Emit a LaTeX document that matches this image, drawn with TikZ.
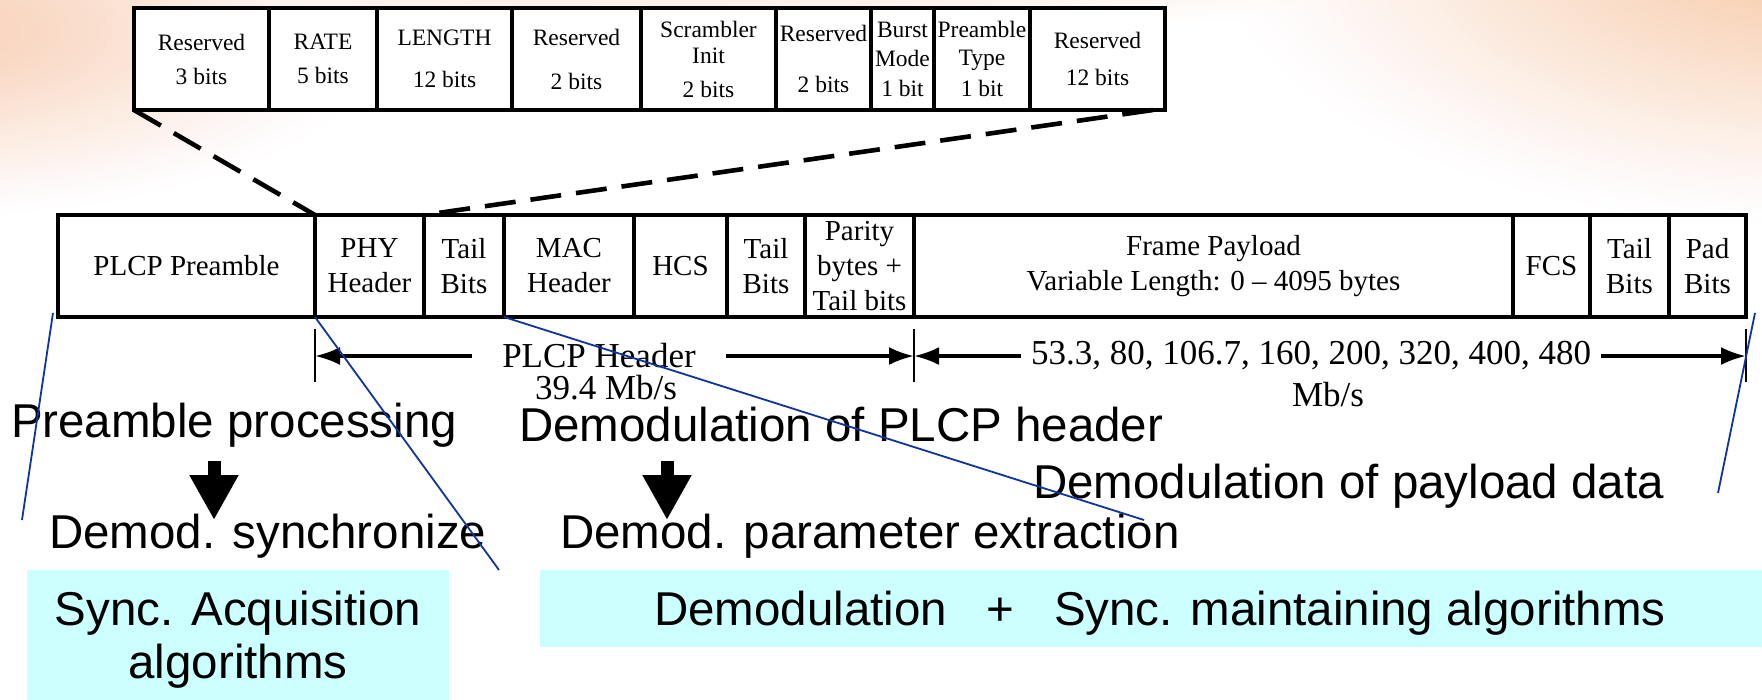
\documentclass[tikz,border=0pt]{standalone}
\usepackage{fontspec}
\setmainfont{Liberation Serif}
\newfontfamily\slidesans{Liberation Sans}
\usetikzlibrary{arrows.meta}

\definecolor{peachL}{RGB}{247,204,178}
\definecolor{peachT}{RGB}{250,226,210}
\definecolor{peachR}{RGB}{247,200,166}
\definecolor{guideblue}{RGB}{14,52,160}
\definecolor{algcyan}{RGB}{204,255,255}

\begin{document}
\begin{tikzpicture}[x=1pt,y=-1pt,
  every node/.style={inner sep=0pt,outer sep=0pt},
  frame/.style={draw=black,fill=white,line width=3.2pt},
  fieldcell/.style={frame,anchor=north west,minimum height=102pt,align=center,
    font=\fontsize{23.5}{26}\selectfont},
  framecell/.style={frame,anchor=north west,minimum height=102pt,align=center,
    font=\fontsize{29}{35}\selectfont},
  zoomline/.style={line width=4.6pt,dash pattern=on 31pt off 15pt},
  marker/.style={line width=2.8pt},
  span/.style={line width=3.4pt,-{Latex[length=25pt,width=18pt]}},
  spanlabel/.style={font=\fontsize{35}{35}\selectfont},
  stage/.style={font=\slidesans\fontsize{47.5}{53}\selectfont},
  algbox/.style={fill=algcyan,anchor=north west,align=center,
    font=\slidesans\fontsize{47.5}{53}\selectfont},
  flowarrow/.style={line width=13pt,-{Triangle[length=45pt,width=46pt]}},
  guide/.style={draw=guideblue,line width=1.8pt},
]
\useasboundingbox (0,0) rectangle (1762,700);

% slide background: white with soft peach glows, built from stacked ellipses
\begin{scope}
  \clip (0,0) rectangle (1762,700);
  \fill[white] (0,0) rectangle (1762,700);
  \foreach \i in {48,47,...,1}{
    \pgfmathsetmacro{\frac}{\i/48}
    \pgfmathsetmacro{\pct}{100*(1-\frac)}
    \pgfmathsetmacro{\trx}{900*\frac}
    \pgfmathsetmacro{\try}{70*\frac}
    \fill[peachT!\pct!white] (620,-30) ellipse [x radius=\trx,y radius=\try];
  }
  \foreach \i in {48,47,...,1}{
    \pgfmathsetmacro{\frac}{\i/48}
    \pgfmathsetmacro{\pct}{100*(1-\frac)}
    \pgfmathsetmacro{\lrx}{480*\frac}
    \pgfmathsetmacro{\lry}{190*\frac}
    \pgfmathsetmacro{\rrx}{600*\frac}
    \pgfmathsetmacro{\rry}{280*\frac}
    \fill[peachL!\pct!white,opacity=\pct/100+0.0] (-80,30) ellipse [x radius=\lrx,y radius=\lry];
    \fill[peachR!\pct!white,opacity=\pct/100+0.0] (1810,-50) ellipse [x radius=\rrx,y radius=\rry];
  }
\end{scope}

% algorithm groups
\node[algbox,minimum width=422pt,minimum height=139pt] (acq) at (27,570)
  {Sync. Acquisition\\algorithms};
\node[algbox,minimum width=1240pt,minimum height=77pt,text height=43pt,text depth=10pt]
  (track) at (540,570) {Demodulation~~~+~~~Sync. maintaining algorithms};

% PHY header fields
\node[fieldcell,minimum width=135pt] (f1) at (134,8) {Reserved\\[8pt]3 bits};
\node[fieldcell,minimum width=108pt] (f2) at (269,8) {RATE\\[8pt]5 bits};
\node[fieldcell,minimum width=135pt] (f3) at (377,8) {LENGTH\\[16pt]12 bits};
\node[fieldcell,minimum width=129pt] (f4) at (512,8) {Reserved\\[18pt]2 bits};
\node[fieldcell,minimum width=135pt] (f5) at (641,8) {Scrambler\\Init\\[8pt]2 bits};
\node[fieldcell,minimum width=95pt]  (f6) at (776,8) {Reserved\\[25pt]2 bits};
\node[fieldcell,minimum width=63pt]  (f7) at (871,8) {Burst\\[3pt]Mode\\[4pt]1 bit};
\node[fieldcell,minimum width=96pt]  (f8) at (934,8) {Preamble\\[2pt]Type\\[5pt]1 bit};
\node[fieldcell,minimum width=135pt] (f9) at (1030,8) {Reserved\\[11pt]12 bits};

% PPDU frame
\node[framecell,minimum width=257pt] (s1) at (58,215) {PLCP Preamble};
\node[framecell,minimum width=109pt] (s2) at (315,215) {PHY\\Header};
\node[framecell,minimum width=80pt]  (s3) at (424,215) {Tail\\Bits};
\node[framecell,minimum width=130pt] (s4) at (504,215) {MAC\\Header};
\node[framecell,minimum width=93pt]  (s5) at (634,215) {HCS};
\node[framecell,minimum width=78pt]  (s6) at (727,215) {Tail\\Bits};
\node[framecell,minimum width=109pt] (s7) at (805,215) {Parity\\bytes +\\Tail bits};
\node[framecell,minimum width=599pt] (s8) at (914,215)
  {Frame Payload\\Variable Length: 0 -- 4095 bytes};
\node[framecell,minimum width=77pt]  (s9) at (1513,215) {FCS};
\node[framecell,minimum width=79pt]  (s10) at (1590,215) {Tail\\Bits};
\node[framecell,minimum width=77pt]  (s11) at (1669,215) {Pad\\Bits};

% expansion of the PHY header
\draw[zoomline] (f1.south west) -- (s2.north west);
\draw[zoomline] ([xshift=-12pt]f9.south east) -- (s3.north west);

% rate spans
\draw[marker] ([yshift=-12pt]s2.south west) -- ([yshift=-65pt]s2.south west);
\draw[marker] ([yshift=-12pt]s8.south west) -- ([yshift=-65pt]s8.south west);
\draw[marker] ([yshift=-12pt]s11.south east) -- ([yshift=-65pt]s11.south east);
\node[spanlabel,inner xsep=30pt,anchor=base] (hdr) at (599,368) {PLCP Header};
\node[spanlabel,anchor=base] (hdrrate) at (606,400) {39.4 Mb/s};
\node[spanlabel,inner xsep=10pt,anchor=base] (pay) at (1311,365)
  {53.3, 80, 106.7, 160, 200, 320, 400, 480};
\node[spanlabel,anchor=base] (payrate) at (1328,407) {Mb/s};
\draw[span] (hdr.west) -- (hdr.west -| s2.south west);
\draw[span] (hdr.east) -- (hdr.east -| s8.south west);
\draw[span] (pay.west) -- (pay.west -| s8.south west);
\draw[span] (pay.east) -- (pay.east -| s11.south east);

% receiver stages
\node[stage,anchor=base west] (pre) at (11,438) {Preamble processing};
\node[stage,anchor=base west] (hdrdemod) at (519,442) {Demodulation of PLCP header};
\node[stage,anchor=base west] (paydemod) at (1033,498) {Demodulation of payload data};
\node[stage,anchor=base west] (sync) at (49,548) {Demod. synchronize};
\node[stage,anchor=base west] (param) at (560,548) {Demod. parameter extraction};
\coordinate (preout) at (214,461);
\coordinate (syncin) at (214,520);
\coordinate (hdrout) at (667,461);
\coordinate (paramin) at (667,520);
\draw[flowarrow] (preout) -- (syncin);
\draw[flowarrow] (hdrout) -- (paramin);

% guides from frame sections to the stages
\coordinate (g1a) at (53,313);
\coordinate (g1b) at (22,520);
\coordinate (g2b) at (499,570);
\coordinate (g3b) at (1144,520);
\coordinate (g4a) at (1755,313);
\coordinate (g4b) at (1718,493);
\draw[guide] (g1a) -- (g1b);
\draw[guide] (s2.south west) -- (g2b);
\draw[guide] (s4.south west) -- (g3b);
\draw[guide] (g4a) -- (g4b);
\end{tikzpicture}
\end{document}
